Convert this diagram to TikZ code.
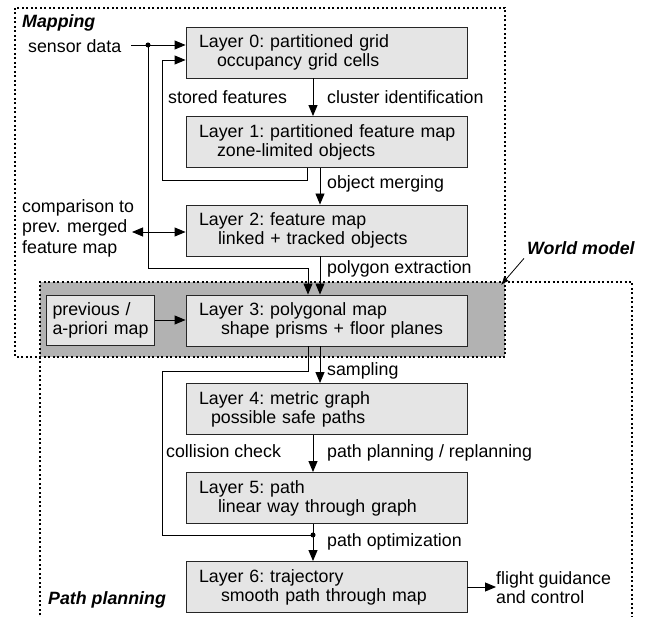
\documentclass[tikz,border=0pt]{standalone}
\usepackage{fontspec}
\setmainfont{Liberation Sans}
\usetikzlibrary{arrows.meta}

\begin{document}
\begin{tikzpicture}[x=1pt,y=-1pt,
  every node/.style={font=\fontsize{17.8}{19}\selectfont\frenchspacing},
  layerbox/.style={draw=black!85, fill=black!10, line width=0.9pt,
    minimum width=281pt, minimum height=51pt, text width=255pt,
    inner xsep=13pt, inner ysep=0pt, align=left},
  smallbox/.style={layerbox, minimum width=108pt, minimum height=50pt,
    text width=96pt, inner xsep=6pt},
  lbl/.style={anchor=base west, inner sep=0pt},
  multi/.style={anchor=north west, inner sep=0pt, align=left},
  title/.style={anchor=base west, inner sep=0pt,
    font=\fontsize{17.8}{19}\selectfont\bfseries\itshape},
  conn/.style={line width=0.9pt},
  arr/.style={conn, -{Triangle[length=11pt,width=9pt]}},
  dbl/.style={conn, {Triangle[length=11pt,width=9pt]}-{Triangle[length=11pt,width=9pt]}},
  thinarr/.style={line width=0.8pt, -{Latex[length=8pt,width=6pt]}},
  region/.style={line width=1.2pt, dash pattern=on 2pt off 2.5pt},
  junction/.style={circle, fill=black, inner sep=0pt, minimum size=5pt},
]
\useasboundingbox (0,0) rectangle (646,617);

% world model: overlap of the two regions
\fill[black!30] (40,282) rectangle (505,357);

% mapping region
\draw[region] (15,8) rectangle (505,357);
% path planning region (open towards the bottom)
\draw[region] (40,620) -- (40,282) -- (632,282) -- (632,620);

% region titles
\node[title] (mapT) at (22,27.7) {Mapping};
\node[title] (planT) at (48,605) {Path planning};
\node[title, inner sep=3pt] (wm) at (524,255) {World model};
\coordinate (wmc) at (501,285);
\draw[thinarr] (wm.south west) -- (wmc);

% layers
\node[layerbox] (l0) at (326.5,52.5) {Layer 0: partitioned grid\\\hspace*{18pt}occupancy grid cells};
\node[layerbox] (l1) at (326.5,142) {\mbox{Layer 1: partitioned feature map}\\\hspace*{18pt}zone-limited objects};
\node[layerbox] (l2) at (326.5,230.5) {Layer 2: feature map\\\hspace*{19pt}linked + tracked objects};
\node[layerbox] (l3) at (326.5,320.5) {Layer 3: polygonal map\\\hspace*{22pt}shape prisms + floor planes};
\node[layerbox] (l4) at (326.5,409) {Layer 4: metric graph\\\hspace*{12pt}possible safe paths};
\node[layerbox] (l5) at (326.5,498) {Layer 5: path\\\hspace*{19pt}linear way through graph};
\node[layerbox] (l6) at (326.5,587) {Layer 6: trajectory\\\hspace*{22pt}smooth path through map};

\node[smallbox] (prev) at (100.5,320) {previous /\\a-priori map};

% outer texts
\node[lbl] (sd) at (28,53) {sensor data};
\node[multi, font=\fontsize{17.8}{20.5}\selectfont] (cmp) at (22,199) {comparison to\\prev. merged\\feature map};
\node[multi] (fg) at (496,571) {flight guidance\\and control};

% edge labels
\node[lbl] (tSf) at (168,104) {stored features};
\node[lbl] (tCi) at (327,104) {cluster identification};
\node[lbl] (tOm) at (327,189) {object merging};
\node[lbl] (tPe) at (327,274) {polygon extraction};
\node[lbl] (tSa) at (327,376) {sampling};
\node[lbl] (tCc) at (166,458) {collision check};
\node[lbl] (tPp) at (327,458) {path planning / replanning};
\node[lbl] (tPo) at (327,547) {path optimization};

% routing points
\coordinate (j1) at (148,45);
\coordinate (sensIn) at (308,268);
\coordinate (sfB) at (162,180);
\coordinate (sfT) at (162,60);
\coordinate (cmpR) at (132,232);
\coordinate (ccB) at (162,371);
\coordinate (j2) at (313,535);

% sensor data into layer 0 and layer 3
\draw[arr, shorten <=10pt] (sd.east |- j1) -- (l0.west |- j1);
\draw[arr] (j1) |- (sensIn) -- (sensIn |- l3.north);
\node[junction] (dot1) at (j1) {};

% stored features feedback
\draw[arr] ([xshift=-19.5pt]l1.south) |- (sfB) |- (l0.west |- sfT);

% main chain
\draw[arr] ([xshift=-13.5pt]l0.south) -- ([xshift=-13.5pt]l1.north);
\draw[arr] ([xshift=-6.5pt]l1.south) -- ([xshift=-6.5pt]l2.north);
\draw[arr] ([xshift=-6.5pt]l2.south) -- ([xshift=-6.5pt]l3.north);
\draw[arr] ([xshift=-6.5pt]l3.south) -- ([xshift=-6.5pt]l4.north);
\draw[arr] ([xshift=-13.5pt]l4.south) -- ([xshift=-13.5pt]l5.north);
\draw[arr] ([xshift=-13.5pt]l5.south) -- ([xshift=-13.5pt]l6.north);

% comparison with previous feature map
\draw[dbl] (cmpR) -- (l2.west |- cmpR);

% a-priori map into layer 3
\draw[arr] (prev.east) -- (l3.west |- prev.east);

% collision check bypass
\draw[conn] ([xshift=-18.5pt]l3.south) |- (ccB) |- (j2);
\node[junction] (dot2) at (j2) {};

% output
\draw[arr] (l6.east) -- (fg.west |- l6.east);
\end{tikzpicture}
\end{document}
